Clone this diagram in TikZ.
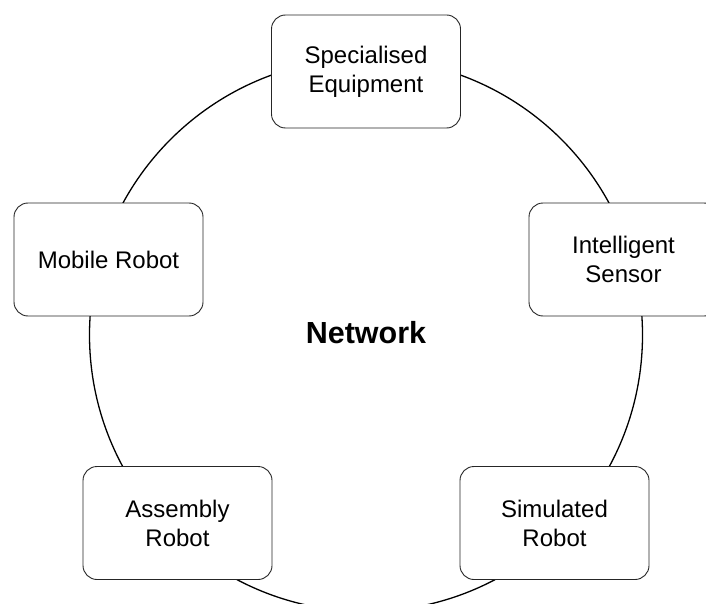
\documentclass[tikz,border=0pt]{standalone}
\usepackage{fontspec}
\setmainfont{Liberation Sans}
\begin{document}
\begin{tikzpicture}[x=1pt,y=-1pt,
  devbox/.style={draw=black!85, line width=0.9pt, fill=white, rounded corners=14pt,
    minimum width=189pt, minimum height=113pt, inner sep=0pt, align=center,
    font=\fontsize{24}{29}\selectfont},
  netlabel/.style={font=\fontsize{30.5}{36}\selectfont\bfseries, inner sep=0pt}]
\useasboundingbox (0,0) rectangle (706,604);
\clip (0,0) rectangle (706,604);
\fill[white] (0,0) rectangle (706,604);
\coordinate (c) at (366,335);
\draw[line width=1.3pt] (c) circle[radius=276.5pt];
\node[netlabel] (net) at (366,333) {Network};
\node[devbox] (se) at (366,71.5) {Specialised\\Equipment};
\node[devbox] (mr) at (108.5,259.5) {Mobile Robot};
\node[devbox] (is) at (623.5,259.5) {Intelligent\\Sensor};
\node[devbox] (ar) at (177.5,523) {Assembly\\Robot};
\node[devbox] (sr) at (554.5,523) {Simulated\\Robot};
\end{tikzpicture}
\end{document}
